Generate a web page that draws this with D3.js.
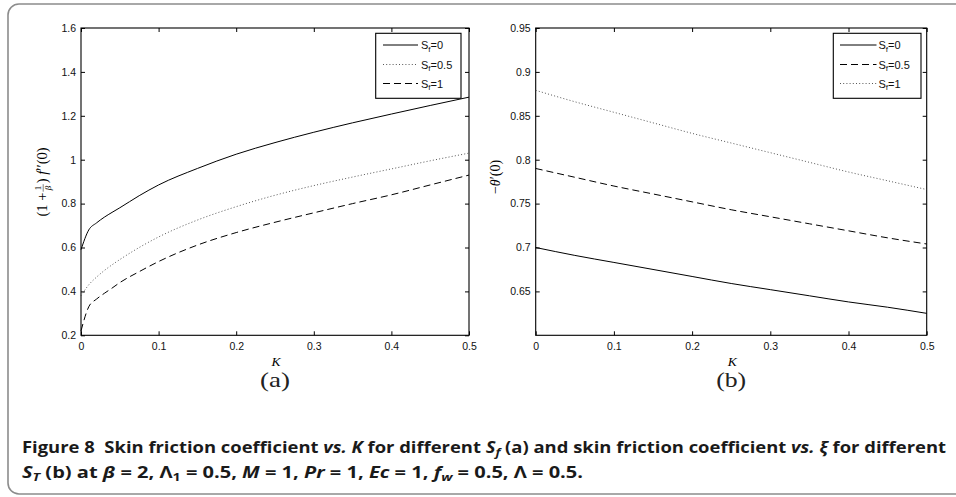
<!DOCTYPE html>
<html><head><meta charset="utf-8">
<script src="https://cdn.jsdelivr.net/npm/d3@7"></script>
<style>body{margin:0;background:#fff}svg{display:block}</style>
</head><body>
<svg id="c" width="956" height="497"></svg>
<script>
// ---------- data ----------
const kA = [0, 0.01, 0.02, 0.03, 0.04, 0.05, 0.075, 0.1, 0.15, 0.2, 0.25, 0.3, 0.35, 0.4, 0.45, 0.5];
const aSf0  = [0.59, 0.68, 0.712, 0.738, 0.76, 0.781, 0.836, 0.885, 0.96, 1.025, 1.078, 1.125, 1.168, 1.208, 1.247, 1.285];
const aSf05 = [0.38, 0.43, 0.465, 0.495, 0.521, 0.545, 0.60, 0.648, 0.725, 0.786, 0.838, 0.882, 0.921, 0.958, 0.995, 1.03];
const aSf1  = [0.22, 0.33, 0.365, 0.391, 0.415, 0.44, 0.49, 0.536, 0.611, 0.668, 0.715, 0.758, 0.80, 0.84, 0.885, 0.93];

const kB = [0, 0.05, 0.1, 0.15, 0.2, 0.25, 0.3, 0.35, 0.4, 0.45, 0.5];
const bSf0  = [0.700, 0.691, 0.683, 0.675, 0.667, 0.659, 0.652, 0.645, 0.638, 0.632, 0.625];
const bSf05 = [0.790, 0.780, 0.770, 0.761, 0.752, 0.743, 0.735, 0.727, 0.719, 0.711, 0.704];
const bSf1  = [0.879, 0.866, 0.854, 0.842, 0.830, 0.819, 0.808, 0.797, 0.786, 0.776, 0.766];

const xTicks  = [0, 0.1, 0.2, 0.3, 0.4, 0.5];
const yTicksA = [0.2, 0.4, 0.6, 0.8, 1.0, 1.2, 1.4, 1.6];
const yTicksB = [0.65, 0.7, 0.75, 0.8, 0.85, 0.9, 0.95];
const legendLabelsA = ["0", "0.5", "1"];
const legendLabelsB = ["0", "0.5", "1"];

// ---------- drawing ----------
const svg = d3.select("#c");
const fmt = v => String(+v.toFixed(2));
const SANS = "'Liberation Sans', Arial, sans-serif";
const SERIF = "'Liberation Serif', 'DejaVu Serif', serif";

// outer frame
svg.append("rect").attr("x", 8).attr("y", 4).attr("width", 1000).attr("height", 490)
  .attr("rx", 11).attr("fill", "none").attr("stroke", "#8c8c8c").attr("stroke-width", 1.6);

const styles = {
  solid:  {dash: null, color: "#000", w: 1},
  dashed: {dash: "7,4", color: "#000", w: 1},
  dotted: {dash: "1,2.2", color: "#444", w: 0.9}
};

function panel(opt) {
  const x = d3.scaleLinear().domain([0, 0.5]).range([opt.left, opt.right]);
  const y = d3.scaleLinear().domain(opt.yDomain).range([opt.bottom, opt.top]);
  const g = svg.append("g");

  const styleAxis = sel => {
    sel.selectAll("text").attr("font-family", SANS).attr("font-size", 10.5).attr("fill", "#111");
    sel.selectAll("line").attr("stroke", "#000");
    sel.select(".domain").remove();
  };
  g.append("g").attr("transform", `translate(0,${opt.bottom})`)
    .call(d3.axisBottom(x).tickValues(xTicks).tickFormat(fmt).tickSizeInner(-4).tickSizeOuter(0).tickPadding(7.5))
    .call(styleAxis);
  g.append("g").attr("transform", `translate(0,${opt.top})`)
    .call(d3.axisTop(x).tickValues(xTicks).tickFormat("").tickSizeInner(-4).tickSizeOuter(0))
    .call(styleAxis);
  g.append("g").attr("transform", `translate(${opt.left},0)`)
    .call(d3.axisLeft(y).tickValues(opt.yTicks).tickFormat(fmt).tickSizeInner(-4).tickSizeOuter(0).tickPadding(5))
    .call(styleAxis);
  g.append("g").attr("transform", `translate(${opt.right},0)`)
    .call(d3.axisRight(y).tickValues(opt.yTicks).tickFormat("").tickSizeInner(-4).tickSizeOuter(0))
    .call(styleAxis);

  g.append("rect").attr("x", opt.left).attr("y", opt.top)
    .attr("width", opt.right - opt.left).attr("height", opt.bottom - opt.top)
    .attr("fill", "none").attr("stroke", "#000").attr("stroke-width", 1.1);

  const line = d3.line().x(d => x(d[0])).y(d => y(d[1])).curve(d3.curveMonotoneX);
  opt.series.forEach(s => {
    const st = styles[s.style];
    g.append("path").datum(opt.k.map((k, i) => [k, s.values[i]]))
      .attr("d", line).attr("fill", "none").attr("stroke", st.color)
      .attr("stroke-width", st.w).attr("stroke-dasharray", st.dash);
  });

  // legend
  const lg = g.append("g");
  lg.append("rect").attr("x", opt.leg.x0).attr("y", 33.3).attr("width", opt.leg.x1 - opt.leg.x0).attr("height", 65)
    .attr("fill", "#fff").attr("stroke", "#000").attr("stroke-width", 1.1);
  const rows = [45, 64.5, 83.5];
  opt.series.forEach((s, i) => {
    const st = styles[s.style];
    lg.append("line").attr("x1", opt.leg.l0).attr("x2", opt.leg.l1).attr("y1", rows[i]).attr("y2", rows[i])
      .attr("stroke", st.color).attr("stroke-width", st.w).attr("stroke-dasharray", st.dash);
    const t = lg.append("text").attr("x", opt.leg.tx).attr("y", rows[i] + 4)
      .attr("font-family", SANS).attr("font-size", 11).attr("fill", "#111");
    t.append("tspan").text("S");
    t.append("tspan").attr("dy", 2.5).attr("font-size", 8).text("f");
    t.append("tspan").attr("dy", -2.5).text("=" + s.label);
  });

  // x label and panel tag
  const cx = (opt.left + opt.right) / 2;
  g.append("text").attr("x", cx + 1).attr("y", 365.5).attr("text-anchor", "middle")
    .attr("font-family", SERIF).attr("font-style", "italic").attr("font-size", 13.5).text("K");
  g.append("text").attr("x", cx).attr("y", 387).attr("text-anchor", "middle")
    .attr("font-family", SERIF).attr("font-size", 21).attr("fill", "#222")
    .attr("textLength", 30).attr("lengthAdjust", "spacingAndGlyphs").text(opt.tag);
  return g;
}

panel({
  left: 81, right: 469, top: 28, bottom: 335.3, yDomain: [0.2, 1.6], yTicks: yTicksA,
  k: kA, tag: "(a)",
  series: [
    {values: aSf0, style: "solid", label: legendLabelsA[0]},
    {values: aSf05, style: "dotted", label: legendLabelsA[1]},
    {values: aSf1, style: "dashed", label: legendLabelsA[2]}
  ],
  leg: {x0: 375.7, x1: 461, l0: 383, l1: 418, tx: 421}
});
panel({
  left: 535.7, right: 926.7, top: 28, bottom: 335.3, yDomain: [0.6, 0.95], yTicks: yTicksB,
  k: kB, tag: "(b)",
  series: [
    {values: bSf0, style: "solid", label: legendLabelsB[0]},
    {values: bSf05, style: "dashed", label: legendLabelsB[1]},
    {values: bSf1, style: "dotted", label: legendLabelsB[2]}
  ],
  leg: {x0: 833.3, x1: 921, l0: 840, l1: 876.5, tx: 878.5}
});

// y label (a): (1 + 1/β) f''(0)
(function () {
  const g = svg.append("g").attr("transform", "translate(47,182) rotate(-90)");
  const fs = 14.5;
  const t1 = g.append("text").attr("font-family", SERIF).attr("font-size", fs).text("(1 + ");
  const w1 = t1.node().getComputedTextLength();
  const fr = g.append("g");
  fr.append("text").attr("font-family", SERIF).attr("font-size", 9).attr("text-anchor", "middle").attr("y", -5.8).text("1");
  fr.append("text").attr("font-family", SERIF).attr("font-style", "italic").attr("font-size", 9).attr("text-anchor", "middle").attr("y", 4.3).text("β");
  const fw = 7.5;
  const bar = fr.append("line").attr("y1", -3.8).attr("y2", -3.8).attr("stroke", "#000").attr("stroke-width", 0.5);
  const t2 = g.append("text").attr("font-family", SERIF).attr("font-size", fs);
  t2.append("tspan").text(") ");
  t2.append("tspan").attr("font-style", "italic").text("f");
  t2.append("tspan").text("′′(0)");
  const w2 = t2.node().getComputedTextLength();
  const total = w1 + fw + 2 + w2;
  const x0 = -total / 2;
  t1.attr("x", x0);
  fr.attr("transform", `translate(${x0 + w1 + 1 + fw / 2},0)`);
  bar.attr("x1", -fw / 2).attr("x2", fw / 2);
  t2.attr("x", x0 + w1 + fw + 2);
})();

// y label (b): −θ'(0)
(function () {
  const t = svg.append("text").attr("transform", "translate(500,177) rotate(-90)")
    .attr("text-anchor", "middle").attr("font-family", SERIF).attr("font-size", 14);
  t.append("tspan").text("−");
  t.append("tspan").attr("font-style", "italic").text("θ");
  t.append("tspan").text("′(0)");
})();

// caption
(function () {
  const CF = "'Open Sans', 'Noto Sans', sans-serif";
  const mk = (y, len) => svg.append("text").attr("x", 22).attr("y", y)
    .attr("font-family", CF).attr("font-weight", 700).attr("font-size", 15.5).attr("fill", "#1a1a1a")
    .attr("textLength", len).attr("lengthAdjust", "spacingAndGlyphs").style("white-space", "pre");
  const add = (t, txt, o = {}) => {
    const s = t.append("tspan").text(txt);
    if (o.i) s.attr("font-style", "italic");
    if (o.dy) s.attr("dy", o.dy);
    if (o.fs) s.attr("font-size", o.fs);
    return s;
  };
  const l1 = mk(452.5, 924);
  add(l1, "Figure 8  Skin friction coefficient ");
  add(l1, "vs. K", {i: 1});
  add(l1, " for different ");
  add(l1, "S", {i: 1});
  add(l1, "f", {i: 1, dy: 3, fs: 11});
  add(l1, " (a) and skin friction coefficient ", {dy: -3});
  add(l1, "vs.", {i: 1});
  add(l1, " ");
  add(l1, "ξ", {i: 1});
  add(l1, " for different");

  const l2 = mk(478, 561);
  add(l2, "S", {i: 1});
  add(l2, "T", {i: 1, dy: 3, fs: 11});
  add(l2, " (b) at ", {dy: -3});
  add(l2, "β", {i: 1});
  add(l2, " = 2, Λ");
  add(l2, "1", {dy: 3, fs: 11});
  add(l2, " = 0.5, ", {dy: -3});
  add(l2, "M", {i: 1});
  add(l2, " = 1, ");
  add(l2, "Pr", {i: 1});
  add(l2, " = 1, ");
  add(l2, "Ec", {i: 1});
  add(l2, " = 1, ");
  add(l2, "f", {i: 1});
  add(l2, "w", {i: 1, dy: 3, fs: 11});
  add(l2, " = 0.5, Λ = 0.5.", {dy: -3});
})();
</script>
</body></html>
